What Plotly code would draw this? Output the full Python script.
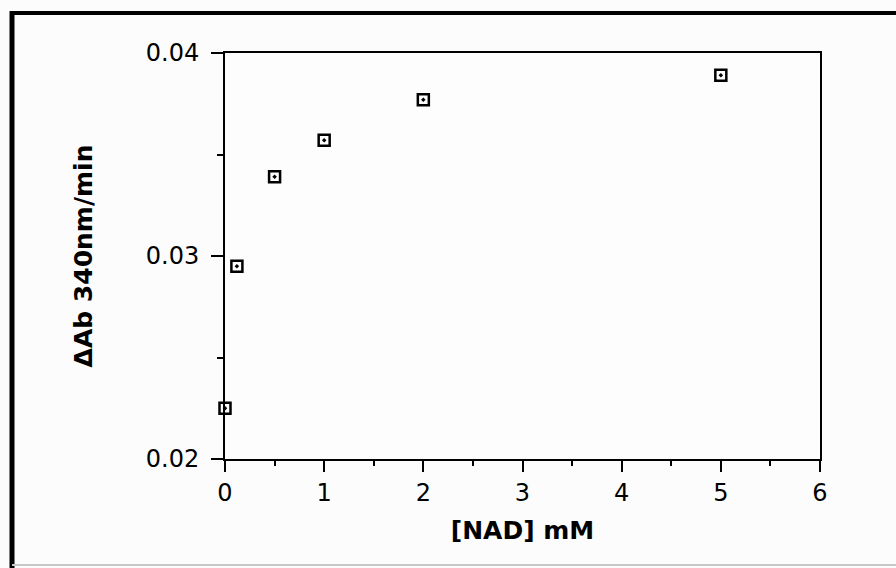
import plotly.graph_objects as go

# Data
nad_mM = [0.0, 0.12, 0.5, 1.0, 2.0, 5.0]
delta_ab = [0.0225, 0.0295, 0.0339, 0.0357, 0.0377, 0.0389]

x_ticks = [0, 1, 2, 3, 4, 5, 6]
y_ticks = [0.02, 0.03, 0.04]
y_tick_text = ["0.02", "0.03", "0.04"]

W, H = 896, 568
L, R, T, B = 225, 76, 53, 109
pw, ph = W - L - R, H - T - B


def px(x):
    return (x - L) / pw


def py(y):
    return (H - B - y) / ph


font_fam = "DejaVu Sans"

fig = go.Figure()
fig.add_trace(go.Scatter(
    x=nad_mM, y=delta_ab, mode="markers", cliponaxis=False,
    marker=dict(symbol="square-open-dot", size=11, color="black",
                line=dict(width=2.5, color="black")),
    showlegend=False,
))

fig.update_layout(
    width=W, height=H,
    margin=dict(l=L, r=R, t=T, b=B, pad=0),
    paper_bgcolor="#fcfcfc", plot_bgcolor="#fdfdfd",
    font=dict(family=font_fam, color="black"),
    xaxis=dict(
        range=[0, 6], tickvals=x_ticks, ticks="outside", ticklen=11, tickwidth=2,
        tickcolor="black", showline=True, linewidth=2, linecolor="black",
        mirror=True, showgrid=False, zeroline=False,
        tickfont=dict(size=24, family=font_fam),
        minor=dict(dtick=0.5, ticks="outside", ticklen=5, tickwidth=2, tickcolor="black", showgrid=False),
        title=dict(text="<b>[NAD] mM</b>", font=dict(size=25, family=font_fam), standoff=16),
    ),
    yaxis=dict(
        range=[0.02, 0.04], tickvals=y_ticks, ticktext=y_tick_text, ticks="outside",
        ticklen=12, tickwidth=2, tickcolor="black", showline=True, linewidth=2,
        linecolor="black", mirror=True, showgrid=False, zeroline=False,
        tickfont=dict(size=24, family=font_fam), ticklabelstandoff=7,
        minor=dict(dtick=0.005, ticks="outside", ticklen=6, tickwidth=2, tickcolor="black", showgrid=False),
        title=dict(text="<b>ΔAb 340nm/min</b>", font=dict(size=25, family=font_fam), standoff=46),
    ),
    shapes=[
        # scanned outer frame: thick top and left, faint bottom
        dict(type="line", xref="paper", yref="paper", x0=px(10), x1=px(900), y0=py(13), y1=py(13),
             line=dict(color="black", width=4)),
        dict(type="line", xref="paper", yref="paper", x0=px(12), x1=px(12), y0=py(11), y1=py(568),
             line=dict(color="black", width=5)),
        dict(type="line", xref="paper", yref="paper", x0=px(12), x1=px(900), y0=py(565), y1=py(565),
             line=dict(color="#c8c8c8", width=2)),
    ],
)

fig.write_html("out.html")
